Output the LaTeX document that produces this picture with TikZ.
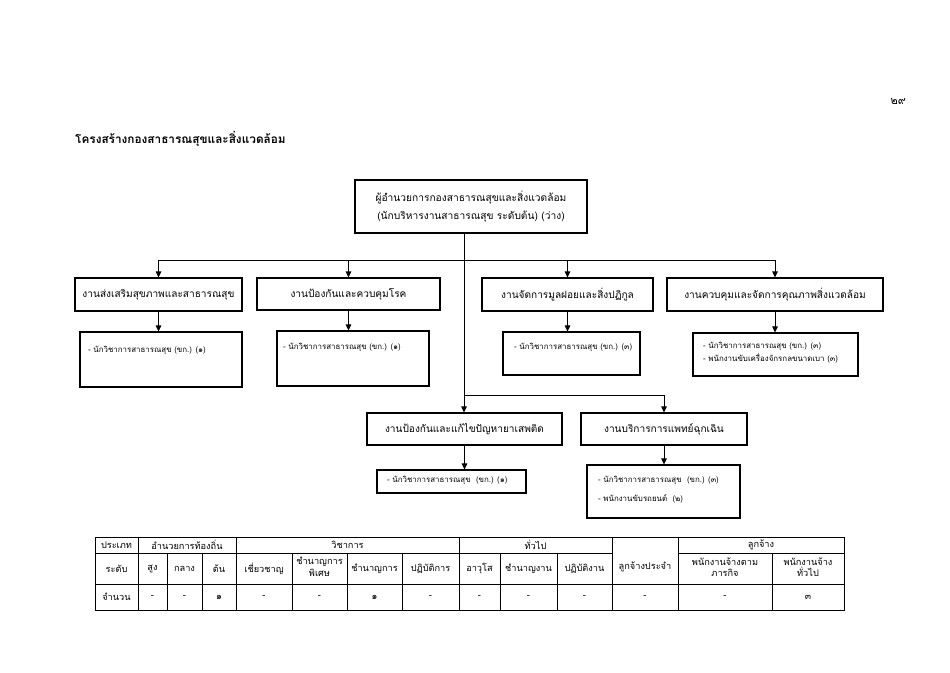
\documentclass[tikz,border=0pt]{standalone}
\usepackage{fontspec}
\newfontfamily\thai[Script=Thai]{Loma}
\usetikzlibrary{arrows.meta}
\begin{document}
\begin{tikzpicture}[x=1pt,y=-1pt,
  font=\thai,
  unitbox/.style={draw,line width=1.1pt,inner sep=0pt,font=\thai\fontsize{10.1}{12}\selectfont},
  subbox/.style={draw,line width=1.1pt,inner sep=0pt},
  subtext/.style={anchor=west,inner sep=0pt,align=left,font=\thai\fontsize{7.9}{#1}\selectfont},
  subtext/.default=13,
  conn/.style={line width=0.9pt},
  arr/.style={line width=0.9pt,-{Triangle[width=5.5pt,length=6pt]}},
  cell/.style={inner sep=0pt,align=center,font=\thai\fontsize{9.2}{11.5}\selectfont},
  tline/.style={line width=0.6pt}
]
\useasboundingbox[fill=white] (0,0) rectangle (950,672);

% page number and title
\node[anchor=east,inner sep=0pt,font=\thai\fontsize{11}{12}\selectfont] (pg) at (906,101) {๒๙};
\node[anchor=west,inner sep=0pt,font=\thai\bfseries\fontsize{11.8}{13}\selectfont] (title) at (75,139) {โครงสร้างกองสาธารณสุขและสิ่งแวดล้อม};

% top box
\node[unitbox,minimum width=232pt,minimum height=53pt,align=center,font=\thai\fontsize{10.2}{18}\selectfont] (top) at (471,206.5)
  {ผู้อำนวยการกองสาธารณสุขและสิ่งแวดล้อม\\(นักบริหารงานสาธารณสุข ระดับต้น) (ว่าง)};

% units
\node[unitbox,minimum width=167pt,minimum height=33pt] (b1) at (158.5,294.5) {งานส่งเสริมสุขภาพและสาธารณสุข};
\node[unitbox,minimum width=183pt,minimum height=32pt] (b2) at (348.5,294) {งานป้องกันและควบคุมโรค};
\node[unitbox,minimum width=171pt,minimum height=33pt] (b3) at (567.5,294.5) {งานจัดการมูลฝอยและสิ่งปฏิกูล};
\node[unitbox,minimum width=216pt,minimum height=33pt] (b4) at (775,294.5) {งานควบคุมและจัดการคุณภาพสิ่งแวดล้อม};
\node[unitbox,minimum width=195pt,minimum height=32pt] (b5) at (464.5,429) {งานป้องกันและแก้ไขปัญหายาเสพติด};
\node[unitbox,minimum width=166pt,minimum height=32pt] (b6) at (664,429) {งานบริการการแพทย์ฉุกเฉิน};

% staff boxes
\node[subbox,minimum width=162pt,minimum height=55pt] (s1) at (161,359.5) {};
\node[subbox,minimum width=152pt,minimum height=55pt] (s2) at (353,358.5) {};
\node[subbox,minimum width=137pt,minimum height=43pt] (s3) at (571.5,353.5) {};
\node[subbox,minimum width=165pt,minimum height=43pt] (s4) at (775.5,354.5) {};
\node[subbox,minimum width=149pt,minimum height=23pt] (s5) at (451.5,481.5) {};
\node[subbox,minimum width=153pt,minimum height=53pt] (s6) at (663.5,491.5) {};

\node[subtext] (t1) at (88,350) {- นักวิชาการสาธารณสุข (ขก.) (๑)};
\node[subtext] (t2) at (283,347) {- นักวิชาการสาธารณสุข (ขก.) (๑)};
\node[subtext] (t3) at (514,347) {- นักวิชาการสาธารณสุข (ขก.) (๓)};
\node[subtext=13] (t4) at (703,352.5) {- นักวิชาการสาธารณสุข (ขก.) (๓)\\- พนักงานขับเครื่องจักรกลขนาดเบา (๓)};
\node[subtext] (t5) at (387,480.5) {- นักวิชาการสาธารณสุข~~(ขก.) (๑)};
\node[subtext=19] (t6) at (598,489.5) {- นักวิชาการสาธารณสุข~~(ขก.) (๓)\\- พนักงานขับรถยนต์~~(๒)};

% connectors
\coordinate (bus) at (464,260);
\coordinate (bus2) at (464,395);
\coordinate (busL) at (159,260);
\coordinate (busR) at (774,260);
\draw[conn] (top.south -| bus) -- (bus2);
\draw[conn] (b1.north |- busL) -- (b4.north |- busR);
\draw[arr] (b1.north |- busL) -- (b1.north);
\draw[arr] (b2.north |- busL) -- (b2.north);
\draw[arr] (b3.north |- busL) -- (b3.north);
\draw[arr] (b4.north |- busL) -- (b4.north);
\draw[conn] (bus2) -- (b6.north |- bus2);
\draw[arr] (bus2) -- (b5.north -| bus2);
\draw[arr] (b6.north |- bus2) -- (b6.north);
\draw[arr] (b1.south) -- (b1.south |- s1.north);
\draw[arr] (b2.south) -- (b2.south |- s2.north);
\draw[arr] (b3.south) -- (b3.south |- s3.north);
\draw[arr] (b4.south) -- (b4.south |- s4.north);
\draw[arr] (b5.south) -- (b5.south |- s5.north);
\draw[arr] (b6.south) -- (b6.south |- s6.north);

% table
\draw[tline] (95,537) rectangle (844,610);
\draw[tline] (95,553) -- (612,553);
\draw[tline] (678,553) -- (844,553);
\draw[tline] (95,584) -- (844,584);
\foreach \x in {138,236,459,612,678} \draw[tline] (\x,537) -- (\x,610);
\foreach \x in {167,202,292,347,402,500,557,772} \draw[tline] (\x,553) -- (\x,610);

% header row 1
\node[cell] (h1) at (116.5,545) {ประเภท};
\node[cell] (h2) at (187,545) {อำนวยการท้องถิ่น};
\node[cell] (h3) at (347.5,545) {วิชาการ};
\node[cell] (h4) at (535.5,545) {ทั่วไป};
\node[cell] (h5) at (645,567) {ลูกจ้างประจำ};
\node[cell] (h6) at (761,545) {ลูกจ้าง};
% header row 2
\node[cell] (r1) at (116.5,568.5) {ระดับ};
\node[cell] (r2) at (152.5,568.5) {สูง};
\node[cell] (r3) at (184.5,568.5) {กลาง};
\node[cell] (r4) at (219,568.5) {ต้น};
\node[cell] (r5) at (264,568.5) {เชี่ยวชาญ};
\node[cell] (r6) at (319.5,567) {ชำนาญการ\\พิเศษ};
\node[cell] (r7) at (374.5,568.5) {ชำนาญการ};
\node[cell] (r8) at (430.5,568.5) {ปฏิบัติการ};
\node[cell] (r9) at (479.5,568.5) {อาวุโส};
\node[cell] (r10) at (528.5,568.5) {ชำนาญงาน};
\node[cell] (r11) at (584.5,568.5) {ปฏิบัติงาน};
\node[cell] (r12) at (725,567) {พนักงานจ้างตาม\\ภารกิจ};
\node[cell] (r13) at (808,567) {พนักงานจ้าง\\ทั่วไป};
% row 3
\node[cell] (n1) at (116.5,597) {จำนวน};
\node[cell] (n2) at (152.5,597) {-};
\node[cell] (n3) at (184.5,597) {-};
\node[cell] (n4) at (219,597) {๑};
\node[cell] (n5) at (264,597) {-};
\node[cell] (n6) at (319.5,597) {-};
\node[cell] (n7) at (374.5,597) {๑};
\node[cell] (n8) at (430.5,597) {-};
\node[cell] (n9) at (479.5,597) {-};
\node[cell] (n10) at (528.5,597) {-};
\node[cell] (n11) at (584.5,597) {-};
\node[cell] (n12) at (645,597) {-};
\node[cell] (n13) at (725,597) {-};
\node[cell] (n14) at (808,597) {๓};
\end{tikzpicture}
\end{document}
